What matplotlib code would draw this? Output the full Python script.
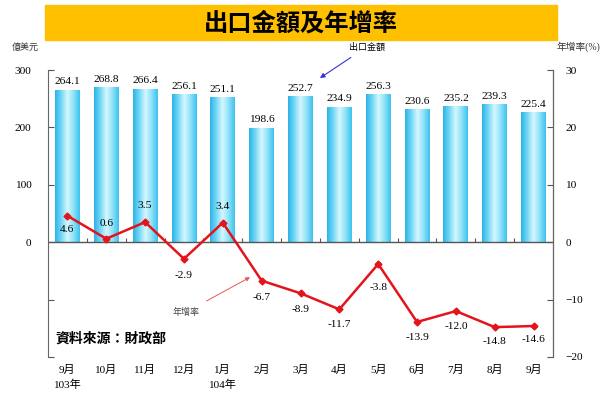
import numpy as np
import matplotlib.pyplot as plt
from matplotlib.colors import LinearSegmentedColormap
from matplotlib.patches import Rectangle

# data
months = ['9月\n103年', '10月', '11月', '12月', '1月\n104年', '2月', '3月',
          '4月', '5月', '6月', '7月', '8月', '9月']
exports = [264.1, 268.8, 266.4, 256.1, 251.1, 198.6, 252.7, 234.9, 256.3,
           230.6, 235.2, 239.3, 225.4]
growth = [4.6, 0.6, 3.5, -2.9, 3.4, -6.7, -8.9, -11.7, -3.8, -13.9, -12.0,
          -14.8, -14.6]

# label offsets (points) for growth labels
growth_dy = [-10, 11, 12, -12, 12, -12, -12, -11, -17, -11, -11, -10, -10]

serif = ['Liberation Serif', 'Noto Sans CJK TC']
cjk = ['Noto Sans CJK TC', 'DejaVu Sans']
plt.rcParams['font.family'] = serif

fig = plt.figure(figsize=(6, 3.98), dpi=100)

# title banner
fig.patches.append(Rectangle((45 / 600, 1 - 40 / 398), 512 / 600, 35 / 398,
                             transform=fig.transFigure, color='#FFC000', zorder=0))
fig.text(301 / 600, 1 - 23 / 398, '出口金額及年增率', family=cjk, fontsize=17.5,
         fontweight='bold', ha='center', va='center')

ax = fig.add_axes([48 / 600, 1 - 357 / 398, 505 / 600, 287 / 398])
x = np.arange(len(months))

bars = ax.bar(x, exports, width=0.64, color='none', edgecolor='none')
cmap = LinearSegmentedColormap.from_list(
    'bar', ['#2cb4e8', '#74d8f6', '#d6f7ff', '#8ee2f8', '#3cc2ef'])
grad = np.linspace(0, 1, 64).reshape(1, -1)
for r in bars:
    ax.imshow(grad, cmap=cmap, aspect='auto', zorder=1,
              extent=[r.get_x(), r.get_x() + r.get_width(), 0, r.get_height()])
    ax.annotate(f'{r.get_height():.1f}', (r.get_x() + r.get_width() / 2, r.get_height()),
                xytext=(0, 3), textcoords='offset points', ha='center', va='bottom',
                fontsize=8.2)

ax.set_xlim(-0.5, len(months) - 0.5)
ax.set_ylim(-200, 300)
ax.set_yticks([-200, -100, 0, 100, 200, 300])
ax.set_yticklabels(['', '', '0', '100', '200', '300'])
ax.set_xticks(x)
ax.set_xticklabels(months, fontsize=8, linespacing=1.5)
ax.tick_params(axis='x', length=0, pad=6)
ax.tick_params(axis='y', direction='in', length=4, labelsize=8.2, pad=12, color='#555555')
for s in ['top', 'bottom']:
    ax.spines[s].set_visible(False)
ax.spines['left'].set_color('#666666')

# zero line and category boundary ticks
ax.axhline(0, color='#555555', lw=1, zorder=2)
ax.vlines(x[:-1] + 0.5, 0, 7, color='#555555', lw=0.8, zorder=2)

ax2 = ax.twinx()
ax2.set_ylim(-20, 30)
ax2.set_yticks([-20, -10, 0, 10, 20, 30])
ax2.tick_params(axis='y', direction='in', length=4, labelsize=8.2, pad=9, color='#555555')
for s in ['top', 'bottom', 'left']:
    ax2.spines[s].set_visible(False)
ax2.spines['right'].set_color('#666666')

ax2.plot(x, growth, color='#e3141c', lw=1.8, marker='D', ms=3.5, zorder=5)
for xi, g, dy in zip(x, growth, growth_dy):
    ax2.annotate(f'{g:.1f}', (xi, g), xytext=(0, dy), textcoords='offset points',
                 ha='center', va='center', fontsize=8.2)

# axis titles
fig.text(25 / 600, 1 - 47 / 398, '億美元', family=cjk, fontsize=6.5,
         ha='center', va='center', color='#333333')
fig.text(578 / 600, 1 - 47 / 398, '年增率(%)', fontsize=7,
         ha='center', va='center', color='#333333')

# annotations
ax.annotate('出口金額', xy=(6.5, 286), xytext=(7.7, 340), family=cjk, fontsize=6.5,
            ha='center', va='center', annotation_clip=False,
            arrowprops=dict(arrowstyle='-|>', color='#3333dd', lw=0.8,
                            shrinkA=4, shrinkB=0, mutation_scale=7))
ax2.annotate('年增率', xy=(4.7, -6.1), xytext=(3.05, -12.2), family=cjk, fontsize=6.5,
             ha='center', va='center', color='#444444',
             arrowprops=dict(arrowstyle='-|>', color='#ee5555', lw=0.7,
                             shrinkA=6, shrinkB=0, mutation_scale=6))

ax.text(0.014, 0.063, '資料來源：財政部', transform=ax.transAxes, family=cjk,
        fontsize=10, fontweight='bold', ha='left', va='center')

fig.savefig('out.png', dpi=100)
